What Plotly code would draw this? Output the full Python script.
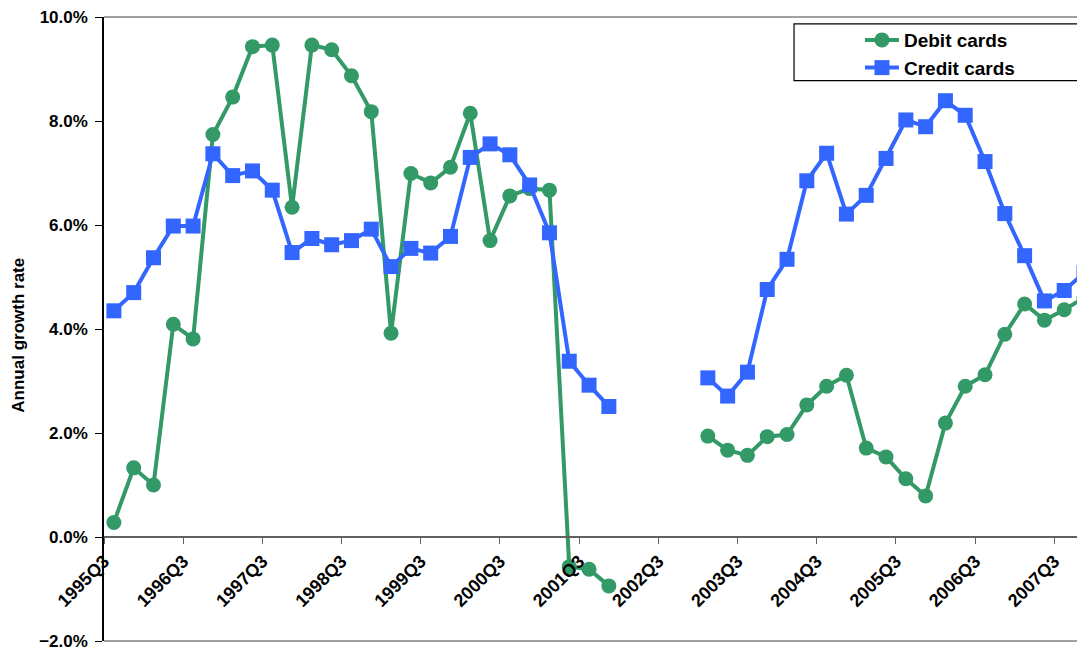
import plotly.graph_objects as go

quarters = [
    '1995Q3', '1995Q4', '1996Q1', '1996Q2', '1996Q3', '1996Q4', '1997Q1', '1997Q2',
    '1997Q3', '1997Q4', '1998Q1', '1998Q2', '1998Q3', '1998Q4', '1999Q1', '1999Q2',
    '1999Q3', '1999Q4', '2000Q1', '2000Q2', '2000Q3', '2000Q4', '2001Q1', '2001Q2',
    '2001Q3', '2001Q4', '2002Q1', '2002Q2', '2002Q3', '2002Q4', '2003Q1', '2003Q2',
    '2003Q3', '2003Q4', '2004Q1', '2004Q2', '2004Q3', '2004Q4', '2005Q1', '2005Q2',
    '2005Q3', '2005Q4', '2006Q1', '2006Q2', '2006Q3', '2006Q4', '2007Q1', '2007Q2',
    '2007Q3', '2007Q4',
]

# annual growth rate, percent (None = no data)
debit = [
    0.28, 1.33, 1.00, 4.09, 3.81, 7.74, 8.46, 9.43,
    9.46, 6.34, 9.46, 9.37, 8.87, 8.18, 3.92, 6.99,
    6.81, 7.11, 8.15, 5.70, 6.56, 6.70, 6.67, -0.57,
    -0.62, -0.94, None, None, None, None, 1.94, 1.67,
    1.57, 1.93, 1.97, 2.54, 2.90, 3.11, 1.71, 1.54,
    1.12, 0.79, 2.19, 2.90, 3.12, 3.90, 4.48, 4.17,
    4.37, 4.60,
]
credit = [
    4.35, 4.70, 5.37, 5.98, 5.98, 7.37, 6.95, 7.04,
    6.67, 5.47, 5.74, 5.62, 5.70, 5.92, 5.20, 5.55,
    5.46, 5.78, 7.30, 7.56, 7.35, 6.77, 5.85, 3.38,
    2.92, 2.51, None, None, None, None, 3.06, 2.71,
    3.17, 4.76, 5.34, 6.85, 7.38, 6.21, 6.57, 7.28,
    8.02, 7.89, 8.39, 8.11, 7.22, 6.22, 5.41, 4.54,
    4.74, 5.08,
]

tick_labels = ['1995Q3', '1996Q3', '1997Q3', '1998Q3', '1999Q3', '2000Q3', '2001Q3',
               '2002Q3', '2003Q3', '2004Q3', '2005Q3', '2006Q3', '2007Q3']
y_ticks = [-0.02, 0.0, 0.02, 0.04, 0.06, 0.08, 0.10]

GREEN = '#339966'
BLUE = '#3366FF'
FONT = 'Liberation Sans, Arial, sans-serif'

x = list(range(len(quarters)))
tickvals = [quarters.index(t) - 0.5 for t in tick_labels]

def pct(vals):
    return [None if v is None else v / 100 for v in vals]

fig = go.Figure()
fig.add_trace(go.Scatter(x=x, y=pct(debit), name='Debit cards', customdata=quarters,
                         mode='lines+markers',
                         line=dict(color=GREEN, width=4),
                         marker=dict(symbol='circle', size=15, color=GREEN),
                         hovertemplate='%{customdata}: %{y:.1%}<extra></extra>'))
fig.add_trace(go.Scatter(x=x, y=pct(credit), name='Credit cards', customdata=quarters,
                         mode='lines+markers',
                         line=dict(color=BLUE, width=4),
                         marker=dict(symbol='square', size=15, color=BLUE),
                         hovertemplate='%{customdata}: %{y:.1%}<extra></extra>'))

# plot border lines and legend box
fig.add_shape(type='line', xref='paper', yref='paper', x0=0, x1=1, y0=1, y1=1,
              line=dict(color='#808080', width=1.5))
fig.add_shape(type='line', xref='paper', yref='paper', x0=0, x1=1, y0=0, y1=0,
              line=dict(color='#808080', width=1.5))
fig.add_shape(type='rect', xref='paper', yref='paper', x0=0.7034, x1=0.9995, y0=0.898, y1=0.989,
              line=dict(color='black', width=1.2), fillcolor='white', layer='below')

# y axis title as an annotation so it can sit further left
fig.add_annotation(text='Annual growth rate', textangle=-90, showarrow=False,
                   xref='paper', yref='paper', x=-0.0872, y=0.49,
                   xanchor='center', yanchor='middle',
                   font=dict(size=17, weight='bold'))

# page body has an 8px margin, so the figure is sized to fit the window
fig.update_layout(
    width=1077, height=645,
    margin=dict(l=96, r=0, t=9, b=12),
    plot_bgcolor='white', paper_bgcolor='white',
    font=dict(family=FONT, color='black'),
    showlegend=True,
    legend=dict(x=0.7706, y=0.9935, xanchor='left', yanchor='top',
                bgcolor='rgba(0,0,0,0)', tracegroupgap=0,
                font=dict(size=19, weight='bold'), itemwidth=34),
    xaxis=dict(range=[-0.5, 49.05], anchor='free', position=2 / 12,
               tickmode='array', tickvals=tickvals, ticktext=tick_labels,
               tickangle=-45, tickfont=dict(size=18, weight='bold'),
               ticks='outside', ticklen=6, tickcolor='#606060',
               showline=True, linecolor='#606060', linewidth=1.5,
               showgrid=False, zeroline=False),
    yaxis=dict(range=[-0.02, 0.10], tickformat='.1%',
               tickmode='array', tickvals=y_ticks, ticklabeloverflow='allow',
               tickfont=dict(size=17, weight='bold'), ticklabelstandoff=4,
               ticks='outside', ticklen=7, tickcolor='black',
               showline=True, linecolor='black', linewidth=1.5,
               showgrid=False, zeroline=False),
)

fig.write_html('out.html')
